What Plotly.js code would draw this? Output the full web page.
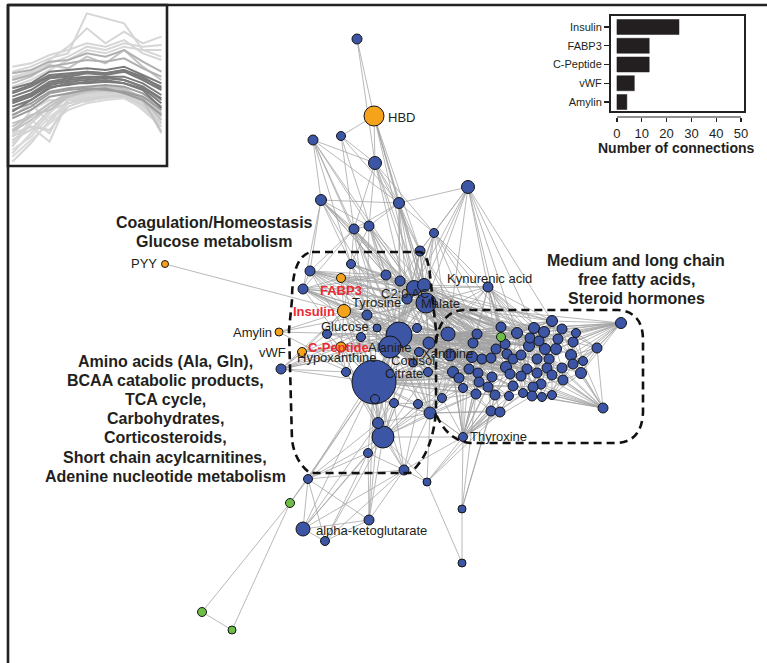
<!DOCTYPE html>
<html><head><meta charset="utf-8">
<script src="https://cdn.plot.ly/plotly-3.0.1.min.js"></script>
<style>html,body{margin:0;padding:0;background:#fff}#chart{width:767px;height:663px}</style>
</head><body><div id="chart"></div>
<script>
// ---------- network nodes (layout positions) ----------
const nodeX = [374,341,344,341,279,302,165, 501,290,202,232,
 357,341,313,375,468,321,399,354,369,434,420,351,310,303,386,400,414,424,426,488,407,367,377,361,327,399,390,417,429,448,450,419,413,428,346,374,281,375,394,418,442,430,378,383,368,404,427,463,308,369,303,325,462,462,
 552,621,477,517,534,544,562,576,473,530,539,558,573,505,496,529,545,556,571,597,472,482,491,507,513,521,537,549,583,573,506,527,547,562,581,453,469,478,510,521,537,552,459,492,479,563,541,463,488,513,533,476,495,509,523,532,542,552,491,500,603,501];
const nodeY = [116,278,311,347,332,352,264, 337,503,612,630,
 39,136,140,163,187,200,203,229,226,233,251,264,271,289,275,281,288,285,303,287,299,315,328,337,334,335,347,328,343,334,355,352,363,372,372,382,369,399,403,404,398,413,423,437,453,470,482,437,479,520,529,541,509,563,
 321,323,334,333,328,332,329,333,343,338,341,339,342,344,349,346,349,349,355,348,357,359,358,354,359,355,359,359,361,364,367,369,368,368,373,372,369,373,374,376,373,375,378,377,382,380,384,388,387,386,387,394,395,396,393,396,397,395,411,412,408,327];
const nodeSize = [20,9,13,10,8,9,7, 9,9,9,8,
 10,9,10,13,13,11,11,10,10,9,10,9,10,10,10,10,15,13,20,10,10,10,8,9,9,26,22,9,12,14,12,9,8,9,9,44,10,9,9,9,9,12,11,22,9,10,8,9,9,10,14,9,8,8,
 11,11,10,11,11,11,10,9,10,10,10,10,10,10,10,11,11,11,11,10,11,10,10,10,10,10,10,10,9,10,11,10,10,10,11,11,10,10,10,10,10,10,10,10,10,10,10,9,10,10,10,10,10,9,9,10,9,9,10,10,10,10];
const nodeGroup = ['o','o','o','o','o','o','o','g','g','g','g'];
// all remaining nodes are blue metabolites
const edgeLinks = [
[11,[0,14]],
[0,[12,14,17,21,27,28,29]],
[12,[14,17,18,25]],
[13,[14,16,17,18,19,22,29,36]],
[14,[17,18,19,20,21,27,29,31]],
[15,[17,20,21,27,28,29,30,40,65,68,69,126]],
[16,[17,18,19,22,23,24,25,26,27,29,31,36]],
[17,[18,19,20,21,26,27,28,29,31,36]],
[18,[19,22,23,24,25,26,27,29,31,36,37,46]],
[19,[22,25,26,27,28,29,31,32,36]],
[20,[21,27,28,29,30,36,40,67,68,7]],
[21,[26,27,28,29,31,36,39,40,67,73]],
[22,[25,26,27,29,31,32,36,37]],
[23,[24,25,27,28,29,31,36,37,39,40,46,67]],
[24,[25,27,29,31,32,36,37,39,40,41,46,73]],
[25,[26,27,28,29,31,36,37,40]],
[26,[27,28,29,31,36,37,39,40]],
[27,[28,29,30,31,36,37,39,40,41,46,65,67,68,69,73,74,78,7,126,75,79,80,85,88]],
[28,[29,30,31,36,37,39,40,41,46,65,67,69,74,126,68,73,78,79,80,85]],
[29,[30,31,32,33,36,37,38,39,40,41,46,65,67,68,69,70,73,74,78,79,80,85,86,100,101,126,75,81,87,88,90,95,102]],
[30,[36,39,40,65,67,68,69,73,74,7,126,70,75,78,79,80,88]],
[31,[36,37,38,39,40,41,46,67,73,68,74,78,79,85,86]],
[32,[33,34,35,36,37,39,40,46]],
[33,[36,37,40,41,46]],
[34,[35,36,37,45,46]],
[35,[36,37,45,46,47]],
[36,[37,38,39,40,41,42,43,44,46,48,49,50,51,52,53,54,67,68,73,74,78,79,80,85,86,87,88,90,95,100,101,102,103,107,7,91,96,104,105,108,113,114]],
[37,[38,39,40,41,42,43,44,46,52,53,54,73,79,85,86,87,95,100,101,102,107,109,112,116,88,89,103,108,113,117]],
[38,[39,40,41,67,73,78]],
[39,[40,41,42,44,46,51,52,67,68,73,78,79,85,86,87,88,95,100,101,102,103]],
[40,[41,65,67,68,69,70,73,74,78,79,80,81,85,86,87,88,90,91,95,96,100,101,105,7,126,75,76,82,89,92,97,103,104,106]],
[41,[44,46,51,52,85,86,87,88,89,95,100,101,102,103,104,107,108,112,113,90,96,105,109,114,116,117,118,119]],
[42,[43,44,46,52,54]],
[43,[44,46,52,53,54]],
[44,[46,51,52,54,100,101,107]],
[45,[46,47,53,54]],
[46,[47,48,49,50,51,52,53,54,55,56,59,60,61,8,67,73,85,86,100,101,103,107,112,114,87,95,102,108,113,116,117]],
[47,[29,36,37,40]],
[48,[49,52,53,54]],
[49,[50,52,53,54,56]],
[50,[51,52,54,56,58]],
[51,[52,54,58,100,107,112,116]],
[52,[53,54,56,57,58,100,107,112,116,123,124]],
[53,[54,56,59,60,61]],
[54,[55,56,57,58,59,60,61,62,100,107,116]],
[55,[56,59,60,61,62]],
[56,[57,58,59,60,61,62]],
[57,[58,64,123,124]],
[58,[40,41,63,86,100,102,103,107,109,112,113,114,116,117,118,119,123,124,101,108,115,120,104]],
[59,[8,36,60,61,62]],
[60,[61,62]],
[61,[62]],
[63,[64,116,117,123]],
[8,[9,10]],
[9,[10]],
[2,[1,3,4,5,6,22,23,24,27,29,31,32,35,36,37,39,40,41,43,44,46,47,52,54,100]],
[1,[23,24,25,27,28,29,31,36,37,40,41,46]],
[3,[5,29,34,35,36,37,39,40,45,46,47,54]],
[4,[29,36,46]],
[5,[29,36,37,46,47]],
[66,[29,40,41,65,69,70,71,72,76,77,83,84,93,99,74,75,81,82,92,94,98]],
[125,[41,83,84,93,94,97,98,99,106,110,121,122,92,105,111,115,120,114]],
[84,[71,72,77,83,93,94,98,99]],
[126,[7,67,68,69,74,78]],
[65,[7,67,68,69,70,71,74,75,76,80,81,82,90,91]],
[7,[67,68,69,73,74,78,79,88]],
[67,[68,73,74,78,79,85,86,80,87,88,90,95,100]],
[68,[69,74,75,78,79,80,88,90,81,89,91,96]],
[69,[70,71,74,75,80,81,90,91,82,92,96,97]],
[70,[71,74,75,76,81,82,92,77,83,91,97]],
[71,[72,76,77,81,82,83]],
[72,[76,77,83,93]],
[73,[78,79,85,86,87,100,101,88,95,102,107]],
[74,[75,80,81,88,90,91]],
[75,[76,80,81,82,91,92]],
[76,[77,81,82,83,92]],
[77,[82,83,93,94,99]],
[78,[79,80,87,88,89,90,95,86,96,103]],
[79,[86,87,88,95,101,102,85,89,103,108]],
[80,[81,89,90,91,96,105,92,97,104]],
[81,[82,91,92,97,105]],
[82,[83,92,97,98,106]],
[83,[93,94,98,99,110]],
[85,[86,87,100,101,102,107,95,103,108,109]],
[86,[87,95,101,102,108,109,103,113,116]],
[87,[88,95,102,103,108]],
[88,[89,90,95,96,103,104,114]],
[89,[90,95,96,103,104,105,114,119]],
[90,[91,96,104,105,97,115]],
[91,[92,97,105,106,111,98,115,120]],
[92,[97,98,106,111,99,110]],
[93,[94,98,99]],
[94,[98,99,106,110]],
[95,[96,103,108,114,104,113,117]],
[96,[97,104,105,114,115,106,119,120]],
[97,[98,105,106,111,115]],
[98,[99,106,110,122]],
[99,[110,122]],
[100,[101,102,107,112,116,108,113,117]],
[101,[102,107,109,112,108,113,116]],
[102,[108,109,113,116]],
[103,[104,108,113,114,118,115,117,119]],
[104,[105,114,115,119,111,120]],
[105,[106,111,115,120,110,121]],
[106,[110,111,121,122]],
[107,[109,112,116]],
[108,[109,113,117]],
[109,[112,113,116,117]],
[110,[111,121,122]],
[111,[115,120,121]],
[112,[116,123]],
[113,[114,117,118,123]],
[114,[115,118,119,124]],
[115,[119,120,121]],
[116,[117,123]],
[117,[118,123,124]],
[118,[119,124]],
[119,[120]],
[120,[121,122]],
[121,[122]],
[123,[124]]
];

// ---------- node labels ----------
const labelNode = [0,30,31,32,29,35,37,3,43,44,41,58,61,1,2,3,6,4,5];
const labelText = ['HBD','Kynurenic acid','C2:0 AC','Tyrosine','Malate','Glucose','Alanine','Hypoxanthine','Cortisol','Citrate','Xanthine','Thyroxine','alpha-ketoglutarate','FABP3','Insulin','C-Peptide','PYY','Amylin','vWF'];
const labelDx = [12,1,-2,9,14,18,-1,-4,0,-24,-3,5,11,0,-7,-3,-6,-5,-14];
const labelDy = [1,-9,-6,-13,0,-8,0,10,-3,1,-2,-1,1,12,0,0,-1,0,0];
const labelAnchor = ['left','center','center','center','center','center','center','center','center','center','center','left','left','center','right','center','right','right','right'];
const labelRed = [0,0,0,0,0,0,0,0,0,0,0,0,0,1,1,1,0,0,0];

// ---------- group captions ----------
const groupLines = [
 ['Coagulation/Homeostasis', 214, 222], ['Glucose metabolism', 214, 241],
 ['Amino acids (Ala, Gln),', 165, 361], ['BCAA catabolic products,', 165, 380], ['TCA cycle,', 165, 399],
 ['Carbohydrates,', 165, 418], ['Corticosteroids,', 165, 437], ['Short chain acylcarnitines,', 165, 457],
 ['Adenine nucleotide metabolism', 165, 476],
 ['Medium and long chain', 636, 260], ['free fatty acids,', 636, 279], ['Steroid hormones', 636, 298]
];

// ---------- inset bar chart ----------
const barCategories = ['Insulin','FABP3','C-Peptide','vWF','Amylin'];
const barValues = [25,13,13,7,4];

// ---------- inset profile chart ----------
const profileTimes = [0,1,2,3,4,5,6,7,8];
const profiles = [
 [57,60,65,68,92,89,86,70,66],
 [54,57,64,72,83,74,81,74,78],
 [20,24,15,40,39,42,44,40,20],
 [8,20,32,42,40,43,43,34,24],
 [3,14,28,40,42,44,43,36,28],
 [14,28,20,41,44,45,44,38,30],
 [60,62,67,70,74,72,76,68,64],
 [30,38,26,40,43,45,42,36,24],
 [18,34,40,40,41,43,44,38,26],
 [48,52,58,64,70,68,72,70,70],
 [53,56,62,66,72,70,74,72,73],
 [10,18,30,38,40,41,42,36,30],
 [6,16,26,34,38,40,41,35,28],
 [16,22,34,38,41,42,42,37,26],
 [12,26,36,44,44,45,44,40,33],
 [18,24,22,36,40,42,43,39,30],
 [24,31,34,42,45,46,45,40,32],
 [26,30,38,43,47,48,47,41,28],
 [21,28,36,42,46,48,46,40,21],
 [22,30,38,44,46,47,46,42,36],
 [50,54,61,59,66,62,70,60,52],
 [56,58,63,64,68,66,70,63,57],
 [52,55,60,62,64,63,65,59,54],
 [34,38,45,47,48,49,48,44,36],
 [31,36,44,46,47,46,45,42,34],
 [29,34,42,44,46,47,44,40,31],
 [33,40,48,49,51,52,50,46,35],
 [42,46,53,54,56,55,57,52,46],
 [40,44,51,53,54,54,54,50,43],
 [45,49,55,56,57,56,58,53,48],
 [38,42,49,51,52,53,52,48,40],
 [47,50,57,58,59,58,60,55,50],
 [36,40,47,50,50,51,50,47,38],
 [44,48,54,55,57,56,58,54,47],
 [39,43,50,52,53,54,52,48,41]
];
const profileShade = ['#d6d6d6','#d6d6d6','#d6d6d6','#d6d6d6','#d6d6d6','#d6d6d6','#d6d6d6','#d6d6d6','#d6d6d6','#d6d6d6','#d6d6d6',
 '#dadada','#dadada','#d2d2d2','#d2d2d2','#d2d2d2',
 '#c2c2c2','#c2c2c2','#c2c2c2','#c2c2c2','#c2c2c2','#b0b0b0','#b0b0b0','#9c9c9c','#9c9c9c','#9c9c9c',
 '#7a7a7a','#7a7a7a','#7a7a7a','#7a7a7a','#7a7a7a','#7a7a7a','#7a7a7a','#7a7a7a','#7a7a7a'];

// ---------- build traces ----------
const groupColor = {o:'#F6A31C', g:'#6DBE46', b:'#3C55A5'};
const edgeX = [], edgeY = [];
edgeLinks.forEach(function(e){
  e[1].forEach(function(t){
    edgeX.push(nodeX[e[0]], nodeX[t], null);
    edgeY.push(nodeY[e[0]], nodeY[t], null);
  });
});
const order = nodeX.map(function(_, i){return i;}).sort(function(a, b){return nodeSize[b] - nodeSize[a];});
const traces = [];
traces.push({type:'scatter', mode:'lines', x:edgeX, y:edgeY, xaxis:'x', yaxis:'y',
  line:{color:'#a2a2a2', width:0.75}, hoverinfo:'skip'});
traces.push({type:'scatter', mode:'markers', xaxis:'x', yaxis:'y',
  x:order.map(function(i){return nodeX[i];}),
  y:order.map(function(i){return nodeY[i];}),
  marker:{size:order.map(function(i){return nodeSize[i];}),
          color:order.map(function(i){return groupColor[nodeGroup[i] || 'b'];}),
          line:{color:'#141414', width:1}, opacity:1},
  hoverinfo:'skip'});
profiles.forEach(function(p, k){
  traces.push({type:'scatter', mode:'lines', x:profileTimes, y:p, xaxis:'x2', yaxis:'y2',
    line:{color:profileShade[k], width:2}, hoverinfo:'skip'});
});
traces.push({type:'bar', orientation:'h', x:barValues, y:barCategories, xaxis:'x3', yaxis:'y3',
  width:0.8, marker:{color:'#231f20', line:{color:'#231f20', width:0.5}}, hoverinfo:'skip'});

// ---------- annotations ----------
const annotations = labelNode.map(function(n, k){
  return {x:nodeX[n], y:nodeY[n], xref:'x', yref:'y', text: labelRed[k] ? '<b>' + labelText[k] + '</b>' : labelText[k],
    showarrow:false, xanchor:labelAnchor[k], yanchor:'middle', xshift:labelDx[k], yshift:-labelDy[k],
    font:{size:13, color: labelRed[k] ? '#EC2A32' : '#231f20'}};
});
groupLines.forEach(function(g){
  annotations.push({x:g[1], y:g[2], xref:'x', yref:'y', showarrow:false, xanchor:'center', yanchor:'middle',
    font:{size:16, color:'#231f20'}, text:'<b>' + g[0] + '</b>'});
});
annotations.push({x:676, y:148, xref:'x', yref:'y', showarrow:false, font:{size:14, color:'#231f20'},
  text:'<b>Number of connections</b>'});

// ---------- shapes ----------
const dashed = {color:'#111', width:2.6, dash:'8px,5px'};
const shapes = [
  {type:'path', xref:'x', yref:'y', line:dashed,
   path:'M 312,252 L 420,252 Q 428,254 430,275 L 436,330 L 436,412 Q 432,455 410,473 L 310,473 Q 295,462 292,440 L 289,330 L 292,300 Q 292,255 312,252 Z'},
  {type:'path', xref:'x', yref:'y', line:dashed,
   path:'M 436,342 Q 440,312 463,310 L 618,310 Q 643,312 643,340 L 643,412 Q 642,441 618,443 L 470,443 Q 447,440 436,414'},
  {type:'line', xref:'x', yref:'y', x0:8, x1:767, y0:5, y1:5, line:{color:'#222', width:2.6}},
  {type:'line', xref:'x', yref:'y', x0:8, x1:8, y0:5, y1:663, line:{color:'#222', width:2.6}},
  {type:'rect', xref:'x', yref:'y', x0:8, x1:167, y0:5, y1:166, line:{color:'#222', width:2.6}},
  {type:'rect', xref:'x', yref:'y', x0:610, x1:745, y0:15, y1:112, line:{color:'#222', width:2}},
  {type:'line', xref:'x3', yref:'y', x0:0, x1:50, y0:117, y1:117, line:{color:'#222', width:1.2}}
];

const layout = {
  width:767, height:663, margin:{l:0, r:0, t:0, b:0},
  paper_bgcolor:'#ffffff', plot_bgcolor:'rgba(0,0,0,0)', showlegend:false,
  font:{family:'Liberation Sans, Arial, sans-serif', color:'#231f20'},
  xaxis:{domain:[0,1], range:[0,767], visible:false, fixedrange:true},
  yaxis:{domain:[0,1], range:[663,0], visible:false, fixedrange:true},
  xaxis2:{domain:[8/767,167/767], range:[-0.23,8.3], visible:false, anchor:'y2'},
  yaxis2:{domain:[1-166/663,1-5/663], range:[0.4,97], visible:false, anchor:'x2'},
  xaxis3:{domain:[610/767,745/767], range:[-2.8,51.6], anchor:'y3', tickvals:[0,10,20,30,40,50],
    ticks:'outside', ticklen:4, tickwidth:1.2, tickcolor:'#222', showline:false, showgrid:false, zeroline:false,
    tickfont:{size:13, color:'#231f20'}},
  yaxis3:{domain:[1-117/663,1-15/663], anchor:'x3', type:'category', categoryorder:'array', categoryarray:barCategories,
    range:[4.8,-0.64], ticks:'outside', ticklen:5, tickwidth:1.2, tickcolor:'#222', showline:false, showgrid:false, zeroline:false,
    tickfont:{size:11, color:'#231f20'}},
  shapes:shapes, annotations:annotations
};
Plotly.newPlot('chart', traces, layout, {staticPlot:true, displayModeBar:false});
</script></body></html>
